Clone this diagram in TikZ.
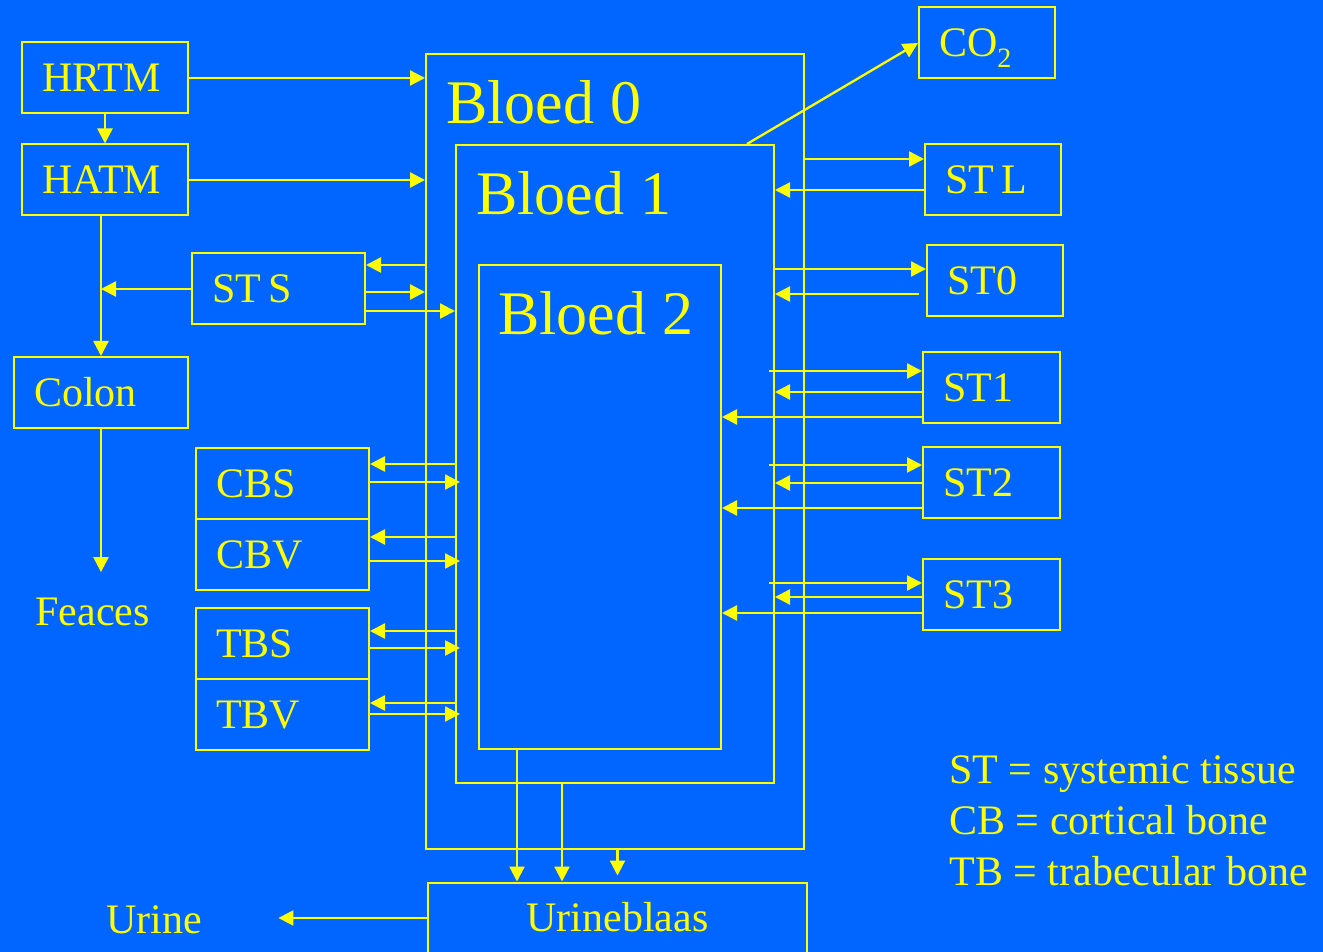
\documentclass[tikz,border=0pt]{standalone}
\usepackage{fontspec}
\setmainfont{Liberation Serif}
\usetikzlibrary{arrows.meta,positioning,calc}
\definecolor{bg}{RGB}{0,102,255}
\definecolor{yl}{RGB}{255,255,0}
\newcommand\lblfont{\fontsize{21}{25}\selectfont}
\tikzset{bx/.style={draw=yl,line width=1pt,text=yl,inner xsep=10pt,inner ysep=0pt,align=left,
   text width=#1,minimum height=35.5pt,text height=13.9pt,text depth=0pt,font=\lblfont,
   execute at begin node={\spaceskip=3.6pt\relax}},bx/.default=48pt,
 blk/.style={draw=yl,line width=1pt,inner sep=0pt},
 tag/.style={text=yl,inner sep=0pt,font=\lblfont,anchor=base west},
 big/.style={anchor=north west,inner sep=0pt,text=yl,font=\fontsize{31}{37}\selectfont},
 arr/.style={draw=yl,line width=1.15pt,-{Triangle[length=7.5pt,width=7.5pt]}}}
\begin{document}
\begin{tikzpicture}[x=.5pt,y=-.5pt]
\useasboundingbox (0,0) rectangle (1323,952);
\fill[bg] (0,0) rectangle (1323,952);
% blood compartments
\node[blk,minimum width=189pt,minimum height=397.5pt] (b0) at (615,451.5) {};
\node[blk,minimum width=159pt,minimum height=319pt] (b1) at (615,464) {};
\node[blk,minimum width=121pt,minimum height=242pt] (b2) at (600,507) {};
\node[big] (t0) at ([xshift=10.5pt,yshift=-13.5pt]b0.north west) {Bloed 0};
\node[big] (t1) at ([xshift=10.5pt,yshift=-13.5pt]b1.north west) {Bloed 1};
\node[big] (t2) at ([xshift=10pt,yshift=-13.5pt]b2.north west) {Bloed 2};
% left side
\node[bx=63pt] (hrtm) at (105,78) {HRTM};\node[bx=63pt] (hatm) at (105,180) {HATM};
\node[bx=66.5pt] (sts) at (278.5,289) {ST S};\node[bx=67pt] (colon) at (101,392.5) {Colon};
\node[tag] (fc) at (35,625) {Feaces};
\node[bx=66.5pt] (cbs) at (282.5,483.5) {CBS};\node[bx=66.5pt] (cbv) at (282.5,554.5) {CBV};
\node[bx=66.5pt] (tbs) at (282.5,643.5) {TBS};\node[bx=66.5pt] (tbv) at (282.5,714.5) {TBV};
% right side
\node[bx] (co2) at (987,43) {CO\raisebox{-5.5pt}{\fontsize{14}{16}\selectfont 2}};
\node[bx] (stl) at (993,179.5) {ST L};\node[bx] (st0) at (995,280.5) {ST0};
\node[bx=48.5pt] (st1) at (991.5,387.5) {ST1};\node[bx=48.5pt] (st2) at (991.5,482.5) {ST2};
\node[bx=48.5pt] (st3) at (991.5,594.5) {ST3};
% bottom
\node[bx=169.5pt,align=center] (ub) at (617.5,918) {Urineblaas};
\node[tag] (ur) at (106,933) {Urine};
\node[tag] (k1) at (949,783) {ST = systemic tissue};
\node[tag] (k2) at (949,834) {CB = cortical bone};
\node[tag] (k3) at (949,885) {TB = trabecular bone};
% connectors
\draw[arr] (hrtm.east) -- (hrtm.east -| b0.west);\draw[arr] (hatm.east) -- (hatm.east -| b0.west);
\draw[arr] (hrtm.south) -- (hatm.north);
\draw[arr] (hatm.south -| colon.north) -- (colon.north);
\draw[arr] (sts.west) -- (sts.west -| colon.north);
\draw[arr,shorten >=12.5pt] (colon.south) -- (colon.south |- fc.north);
\draw[arr] (b0.west |- 0,265) -- (sts.east |- 0,265);
\draw[arr] (sts.east |- 0,292) -- (b0.west |- 0,292);
\draw[arr] (sts.east |- 0,311) -- (b1.west |- 0,311);
\foreach \n/\u/\d in {cbs/464/482,cbv/537/561,tbs/631/648,tbv/703/714}{
 \draw[arr] (b1.west |- 0,\u) -- (\n.east |- 0,\u);
 \draw[arr,shorten >=-2.5pt] (\n.east |- 0,\d) -- (b1.west |- 0,\d);}
\draw[arr] (b0.east |- 0,159) -- (stl.west |- 0,159);
\draw[arr] (stl.west |- 0,190) -- (b1.east |- 0,190);
\draw[arr] (b1.east |- 0,269) -- (st0.west |- 0,269);
\draw[arr,shorten <=3.5pt] (st0.west |- 0,294) -- (b1.east |- 0,294);
\foreach \n/\a/\b/\c in {st1/371/392/417,st2/465/483/508,st3/583/597/613}{
 \draw[arr,shorten <=-3pt] (b1.east |- 0,\a) -- (\n.west |- 0,\a);
 \draw[arr] (\n.west |- 0,\b) -- (b1.east |- 0,\b);
 \draw[arr] (\n.west |- 0,\c) -- (b2.east |- 0,\c);}
\draw[arr] ([xshift=-14pt]b1.north east) -- (co2.west);
\draw[arr] (517,0 |- b2.south) -- (517,0 |- ub.north);
\draw[arr] (562,0 |- b1.south) -- (562,0 |- ub.north);
\draw[arr,shorten >=3pt] (b0.south -| ub.north) -- (ub.north);
\draw[arr,shorten >=38pt] (ub.west) -- (ub.west -| ur.east);
\end{tikzpicture}
\end{document}
